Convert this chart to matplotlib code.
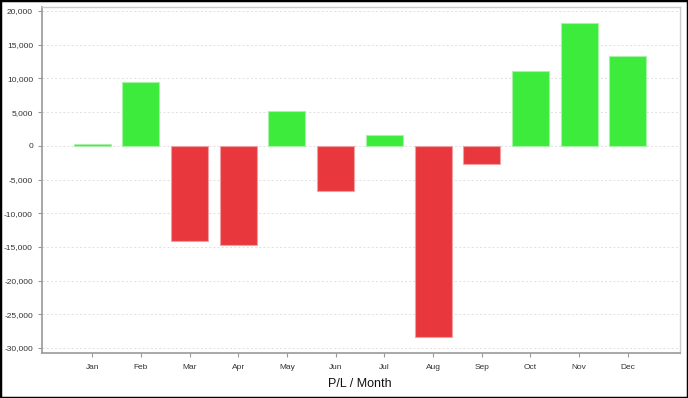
import matplotlib.pyplot as plt
from matplotlib.patches import Rectangle
from matplotlib.ticker import FuncFormatter

months = ["Jan", "Feb", "Mar", "Apr", "May", "Jun",
          "Jul", "Aug", "Sep", "Oct", "Nov", "Dec"]
pnl = [250, 9500, -14100, -14700, 5200, -6700,
       1650, -28300, -2700, 11100, 18300, 13400]

plt.rcParams['font.family'] = ['Liberation Sans', 'DejaVu Sans']

fig = plt.figure(figsize=(6.88, 3.98), dpi=100)
ax = fig.add_axes([42 / 688, 1 - 353 / 398, 638 / 688, 346 / 398])

x = list(range(len(months)))
colors = ['#3deb3d' if v >= 0 else '#e8383d' for v in pnl]
edges = ['#a8f2a8' if v >= 0 else '#f0a0a3' for v in pnl]
ax.bar(x, pnl, width=0.76, color=colors, edgecolor=edges, linewidth=0.8, zorder=3)

ax.set_xlim(-1.03, 12.07)
ax.set_ylim(-30740, 20600)
ax.set_yticks(range(-30000, 20001, 5000))
ax.yaxis.set_major_formatter(FuncFormatter(lambda v, p: f"{int(v):,}"))
ax.set_xticks(x)
ax.set_xticklabels(months)

ax.grid(axis='y', linestyle=(0, (2.5, 2.5)), color='#dcdcdc', linewidth=0.6, zorder=0)
ax.tick_params(axis='both', labelsize=6, colors='#333333', length=3, width=0.8)
ax.tick_params(axis='both', color='#999999')
ax.tick_params(axis='x', pad=5)

for side in ['left', 'bottom']:
    ax.spines[side].set_color('#999999')
    ax.spines[side].set_linewidth(1.2)
for side in ['top', 'right']:
    ax.spines[side].set_color('#cccccc')
    ax.spines[side].set_linewidth(1.0)

fig.text(360 / 688, 1 - 384 / 398, "P/L / Month", ha='center', va='center',
         fontsize=9, color='#111111')

# 外枠
fig.patches.append(Rectangle((0, 0), 1, 1, transform=fig.transFigure,
                             fill=False, edgecolor='black', linewidth=2.5))

fig.savefig("out.png", dpi=100)
